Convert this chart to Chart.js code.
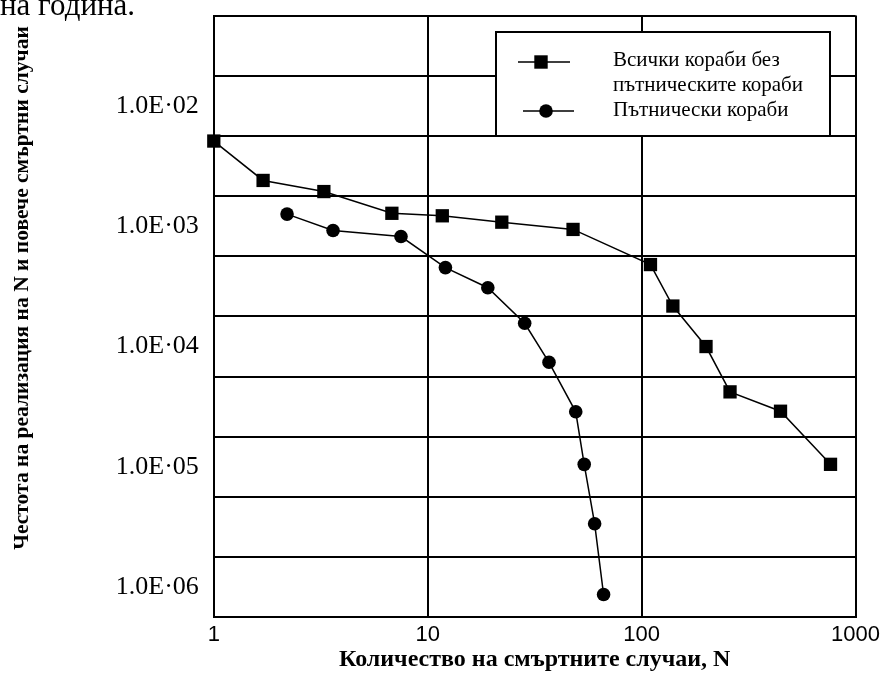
<!DOCTYPE html>
<html>
<head>
<meta charset="utf-8">
<script src="https://cdn.jsdelivr.net/npm/chart.js@4.4.0/dist/chart.umd.min.js"></script>
<style>
  html, body { margin: 0; padding: 0; background: #fff; }
</style>
</head>
<body>
<canvas id="c" width="884" height="681"></canvas>
<script>
// N (number of fatalities) and frequency values
const allShipsN = [1.0, 1.7, 3.27, 6.8, 11.7, 22.2, 47.8, 110, 140, 200, 259, 446, 764];
const allShipsF = [5.1e-3, 2.4e-3, 1.94e-3, 1.28e-3, 1.22e-3, 1.08e-3, 9.4e-4, 4.8e-4, 2.17e-4, 1.0e-4, 4.2e-5, 2.9e-5, 1.05e-5];
const passengerN = [2.2, 3.61, 7.5, 12.1, 19.1, 28.4, 36.9, 49.2, 53.9, 60.3, 66.4];
const passengerF = [1.26e-3, 9.2e-4, 8.2e-4, 4.53e-4, 3.08e-4, 1.56e-4, 7.4e-5, 2.87e-5, 1.05e-5, 3.37e-6, 8.7e-7];

const seriesNames = [['Всички кораби без', 'пътническите кораби'], ['Пътнически кораби']];

const xTicks = [1, 10, 100, 1000];
const xTickLabels = ['1', '10', '100', '1000'];
const yTicks = [1e-2, 1e-3, 1e-4, 1e-5, 1e-6];
const yTickLabels = ['1.0E·02', '1.0E·03', '1.0E·04', '1.0E·05', '1.0E·06'];

const yMinExp = -6.25, yMaxExp = -1.25;

const toPoints = (xs, ys) => xs.map((x, i) => ({x: x, y: ys[i]}));

// grid lines every half decade, labels sit between them
const yGrid = [];
for (let e = yMinExp; e <= yMaxExp + 1e-9; e += 0.5) yGrid.push(Math.pow(10, e));

const extras = {
    id: 'extras',
    afterDraw(chart) {
        const ctx = chart.ctx;
        ctx.save();
        ctx.fillStyle = '#000';

        // piece of the document text above the chart
        ctx.font = '31px "Liberation Serif"';
        ctx.textAlign = 'left';
        ctx.textBaseline = 'alphabetic';
        ctx.fillText('на година.', 0, 15);

        // y title
        ctx.save();
        ctx.translate(22, 288);
        ctx.rotate(-Math.PI / 2);
        ctx.font = 'bold 21.5px "Liberation Serif"';
        ctx.textAlign = 'center';
        ctx.textBaseline = 'middle';
        ctx.fillText('Честота на реализация на N и повече смъртни случаи', 0, 0);
        ctx.restore();

        // legend
        ctx.fillStyle = '#fff';
        ctx.fillRect(496, 32, 334, 104);
        ctx.strokeStyle = '#000';
        ctx.lineWidth = 2;
        ctx.strokeRect(496, 32, 334, 104);

        ctx.fillStyle = '#000';
        ctx.lineWidth = 1.5;
        ctx.beginPath();
        ctx.moveTo(518, 62); ctx.lineTo(570, 62);
        ctx.moveTo(523, 111); ctx.lineTo(574, 111);
        ctx.stroke();
        ctx.fillRect(541 - 6.7, 62 - 6.7, 13.4, 13.4);
        ctx.beginPath();
        ctx.arc(546, 111, 6.8, 0, Math.PI * 2);
        ctx.fill();

        ctx.font = '21px "Liberation Serif"';
        ctx.textAlign = 'left';
        ctx.textBaseline = 'alphabetic';
        ctx.fillText(seriesNames[0][0], 613, 66);
        ctx.fillText(seriesNames[0][1], 613, 91);
        ctx.fillText(seriesNames[1][0], 613, 116);
        ctx.restore();
    }
};

new Chart(document.getElementById('c'), {
    type: 'line',
    data: {
        datasets: [{
            label: seriesNames[0].join(' '),
            data: toPoints(allShipsN, allShipsF),
            borderColor: '#000',
            backgroundColor: '#000',
            borderWidth: 1.5,
            pointStyle: 'rect',
            pointRadius: 9.4,
            pointBorderWidth: 0,
            tension: 0,
            clip: false
        }, {
            label: seriesNames[1][0],
            data: toPoints(passengerN, passengerF),
            borderColor: '#000',
            backgroundColor: '#000',
            borderWidth: 1.5,
            pointStyle: 'circle',
            pointRadius: 6.8,
            pointBorderWidth: 0,
            tension: 0,
            clip: false
        }]
    },
    options: {
        responsive: false,
        animation: false,
        devicePixelRatio: 1,
        layout: {
            padding: {top: 12.3, right: 26.7, left: 0, bottom: 0}
        },
        plugins: {
            legend: {display: false},
            tooltip: {enabled: false}
        },
        scales: {
            x: {
                type: 'logarithmic',
                min: 1,
                max: 1000,
                afterBuildTicks: (scale) => {
                    scale.ticks = xTicks.map(v => ({value: v}));
                },
                afterFit: (scale) => {
                    scale.height = 63.7;
                },
                grid: {
                    color: '#000',
                    lineWidth: 2,
                    drawTicks: false
                },
                border: {color: '#000', width: 2},
                ticks: {
                    autoSkip: false,
                    maxRotation: 0,
                    padding: 4,
                    color: '#000',
                    font: {family: 'Liberation Sans', size: 22},
                    callback: (value, index) => xTickLabels[index]
                },
                title: {
                    display: true,
                    text: 'Количество на смъртните случаи, N',
                    color: '#000',
                    font: {family: 'Liberation Serif', size: 24, weight: 'bold'},
                    padding: {top: 0, bottom: 6.6}
                }
            },
            y: {
                type: 'logarithmic',
                min: Math.pow(10, yMinExp),
                max: Math.pow(10, yMaxExp),
                afterBuildTicks: (scale) => {
                    scale.ticks = yGrid.concat(yTicks)
                        .sort((a, b) => a - b)
                        .map(v => ({value: v}));
                },
                afterFit: (scale) => {
                    scale.width = 213.8;
                },
                grid: {
                    color: (ctx) => yTicks.includes(ctx.tick && ctx.tick.value) ? 'rgba(0,0,0,0)' : '#000',
                    lineWidth: 2,
                    drawTicks: false
                },
                border: {color: '#000', width: 2},
                ticks: {
                    autoSkip: false,
                    padding: 15,
                    color: '#000',
                    font: (ctx) => yTicks.includes(ctx.tick && ctx.tick.value)
                        ? {family: 'Liberation Serif', size: 26}
                        : {family: 'Liberation Serif', size: 1},
                    callback: (value) => {
                        const i = yTicks.indexOf(value);
                        return i >= 0 ? yTickLabels[i] : '';
                    }
                }
            }
        }
    },
    plugins: [extras]
});
</script>
</body>
</html>
